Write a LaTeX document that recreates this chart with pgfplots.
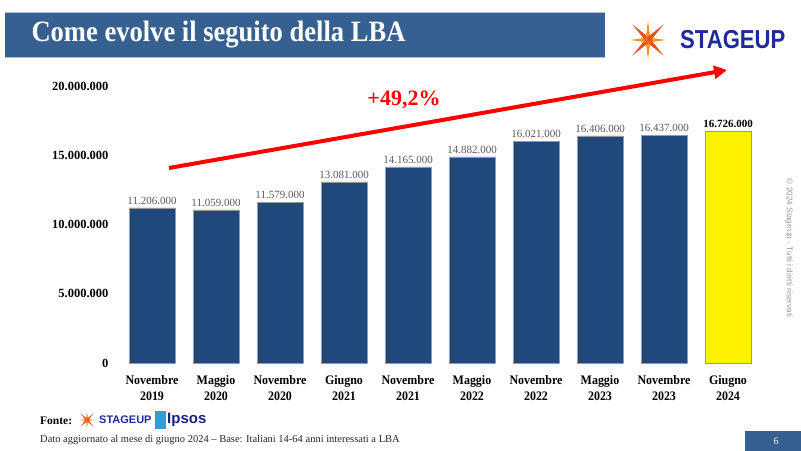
\documentclass[border=0pt]{standalone}
\usepackage{pgfplots}
\pgfplotsset{compat=1.18}
\usepackage{pgfplotstable}
\usetikzlibrary{arrows.meta}
\usepackage{fontspec}
\setmainfont{Liberation Serif}
\newfontfamily\cserif[FakeStretch=0.92]{Liberation Serif}
\newfontfamily\tserif[FakeStretch=0.9]{Liberation Serif}
\newfontfamily\csans{Liberation Sans}
\newfontfamily\csansc[FakeStretch=0.85]{Liberation Sans}
\definecolor{titleblue}{HTML}{36608F}
\definecolor{barblue}{HTML}{1F497D}
\definecolor{logoblue}{HTML}{1E2A9C}
\definecolor{lgray}{HTML}{595959}
\definecolor{orA}{HTML}{F7941D}
\definecolor{orB}{HTML}{E8501A}
\definecolor{ipsosA}{HTML}{2E9FD6}

\pgfplotstableread{
x y lab
0 11206000 11.206.000
1 11059000 11.059.000
2 11579000 11.579.000
3 13081000 13.081.000
4 14165000 14.165.000
5 14882000 14.882.000
6 16021000 16.021.000
7 16406000 16.406.000
8 16437000 16.437.000
}\bluedata
\pgfplotstableread{
x y lab
9 16726000 16.726.000
}\yellowdata

\begin{document}
\begin{tikzpicture}[x=1bp,y=-1bp]
\path[use as bounding box] (0,0) rectangle (801,451);
% title bar
\fill[titleblue] (5,12) rectangle (605,57);
\draw[titleblue!40, line width=0.8bp] (5,12) -- (605,12) (5,57) -- (605,57);
\node[anchor=west,text=white,font=\tserif\fontsize{29.5bp}{31bp}\selectfont\bfseries] at (28,35) {Come evolve il seguito della LBA};
% logo
\foreach \a/\r/\c in {0/18/orA,45/22/orB,90/20/orA,135/22/orB,180/18/orA,225/22/orB,270/20/orA,315/22/orB}{
  \fill[\c,shift={(648,40)}] (\a+90:2.5) -- (\a:\r) -- (\a-90:2.5) -- cycle;
}
\node[anchor=west,text=logoblue,font=\csansc\fontsize{26bp}{28bp}\selectfont\bfseries,inner sep=0pt] at (680,40) {STAGEUP};

\begin{axis}[
  at={(120bp,-363bp)}, anchor=south west,
  scale only axis, width=640bp, height=277bp,
  xmin=-0.5, xmax=9.5, ymin=0, ymax=20000000,
  scaled y ticks=false,
  axis line style={draw=none}, major tick length=0pt,
  ytick={0,5000000,10000000,15000000,20000000},
  yticklabels={0,5.000.000,10.000.000,15.000.000,20.000.000},
  yticklabel style={font=\fontsize{12.5bp}{14bp}\selectfont\bfseries, xshift=-8bp},
  xtick={0,...,9},
  xticklabels={{Novembre\\2019},{Maggio\\2020},{Novembre\\2020},{Giugno\\2021},{Novembre\\2021},{Maggio\\2022},{Novembre\\2022},{Maggio\\2023},{Novembre\\2023},{Giugno\\2024}},
  xticklabel style={align=center, font=\cserif\fontsize{13bp}{16bp}\selectfont\bfseries, yshift=-9bp},
  clip=false,
]
\addplot[ybar, bar width=46bp, bar shift=0pt, fill=barblue, draw=gray!80,
  nodes near coords, point meta=explicit symbolic,
  nodes near coords style={font=\fontsize{11bp}{12bp}\selectfont, text=lgray}]
  table[x=x,y=y,meta=lab]{\bluedata};
\addplot[ybar, bar width=46bp, bar shift=0pt, fill=yellow, draw=gray!80,
  nodes near coords, point meta=explicit symbolic,
  nodes near coords style={font=\fontsize{11bp}{12bp}\selectfont\bfseries, text=black}]
  table[x=x,y=y,meta=lab]{\yellowdata};
\end{axis}

% arrow annotation
\draw[red, line width=4bp, -{Triangle[length=13bp,width=13bp]}] (169,168) -- (727,70);
\node[text=red,font=\fontsize{22bp}{24bp}\selectfont\bfseries] at (404,100) {+49,2\%};

% copyright vertical
\node[rotate=-90,text=gray!80,font=\csans\fontsize{8.2bp}{9bp}\selectfont] at (789,248) {\textcopyright\ 2024 StageUp - Tutti i diritti riservati};

% footer
\node[anchor=west,font=\fontsize{11.5bp}{12bp}\selectfont\bfseries,inner sep=0pt] at (40,421) {Fonte:};
\foreach \a/\r/\c in {0/7/orA,45/9/orB,90/8/orA,135/9/orB,180/7/orA,225/9/orB,270/8/orA,315/9/orB}{
  \fill[\c,shift={(87,420)}] (\a+90:1.2) -- (\a:\r) -- (\a-90:1.2) -- cycle;
}
\node[anchor=west,text=logoblue,font=\csans\fontsize{11bp}{12bp}\selectfont\bfseries,inner sep=0pt] at (99,420) {STAGEUP};
\fill[ipsosA] (155,411) rectangle (166,429);
\node[anchor=west,text=logoblue!80!black,font=\csans\fontsize{15bp}{16bp}\selectfont\bfseries,inner sep=0pt] at (167,420) {Ipsos};
\node[anchor=west,font=\fontsize{10.5bp}{11bp}\selectfont,inner sep=0pt,text=black!85] at (40,440) {Dato aggiornato al mese di giugno 2024 -- Base: Italiani 14-64 anni interessati a LBA};
\fill[titleblue] (745,431) rectangle (801,451);
\node[text=white,font=\fontsize{10bp}{12bp}\selectfont] at (776,441) {6};
\end{tikzpicture}
\end{document}
